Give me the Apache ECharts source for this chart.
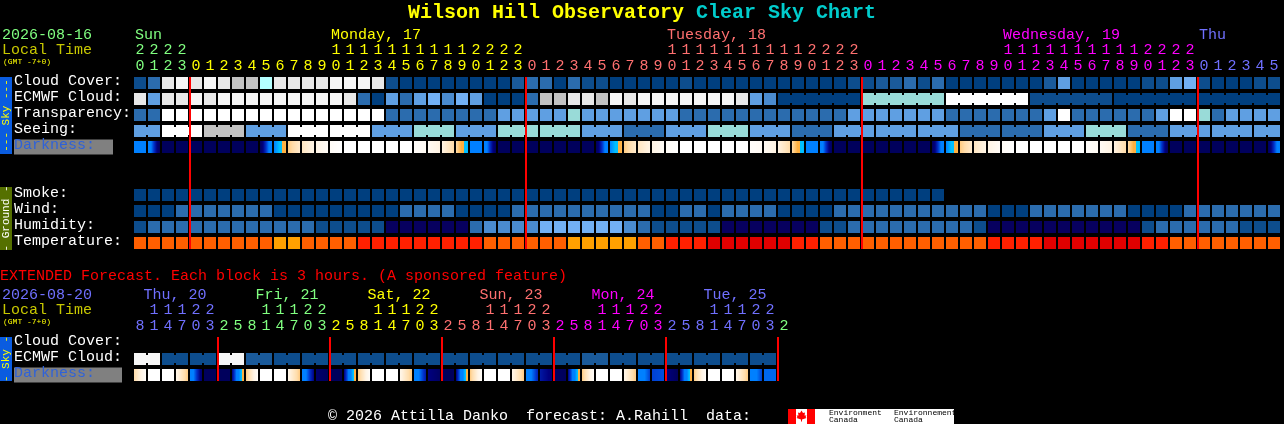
<!DOCTYPE html>
<html><head><meta charset="utf-8">
<style>html,body{margin:0;padding:0;background:#000}#c{width:1284px;height:424px}</style>
<script src="https://cdn.jsdelivr.net/npm/echarts@6/dist/echarts.min.js"></script>
</head><body><div id="c"></div>
<script>
// ---------- data: hourly chart ----------
const hoursMain=[20,21,22,23,0,1,2,3,4,5,6,7,8,9,10,11,12,13,14,15,16,17,18,19,20,21,22,23,0,1,2,3,4,5,6,7,8,9,10,11,12,13,14,15,16,17,18,19,20,21,22,23,0,1,2,3,4,5,6,7,8,9,10,11,12,13,14,15,16,17,18,19,20,21,22,23,0,1,2,3,4,5];
const rowsMain=['Cloud Cover:','ECMWF Cloud:','Transparency:','Seeing:','Darkness:','','','Smoke:','Wind:','Humidity:','Temperature:'];
const dayNamesMain=['Sun','Monday, 17','Tuesday, 18','Wednesday, 19','Thu'];
const dayLabelColsMain=[0,14,38,62,76];
const midnightColsMain=[4,28,52,76];
const cloudCover=[1,3,10,11,10,11,10,9,9,8,10,10,10,10,11,11,11,10,1,0,0,0,0,0,0,0,0,2,3,3,0,3,1,1,0,0,0,0,0,1,0,0,0,0,0,0,0,0,0,0,0,1,1,2,2,3,1,3,0,0,0,0,0,0,0,2,5,0,0,0,0,0,1,1,5,6,1,0,0,0,1,1];
const ecmwfCloud=[10,5,10,10,11,10,11,11,11,11,11,11,11,11,11,10,3,0,5,3,5,6,4,6,5,0,0,0,3,9,9,10,10,9,11,10,11,11,11,11,11,11,11,10,5,4,0,0,0,0,0,0,7,7,7,7,7,7,12,12,12,12,12,12,1,1,1,1,1,1,0,0,0,0,0,0,0,0,0,0,0,0];
const transparency=[3,3,12,12,12,12,12,12,12,12,12,12,12,12,12,12,12,12,3,3,3,3,3,3,3,3,5,5,5,5,5,7,5,5,5,5,5,5,5,3,3,3,3,3,3,3,3,3,3,3,3,5,5,5,5,5,5,5,3,3,3,3,3,3,3,5,12,3,3,3,3,3,3,5,12,12,7,3,5,5,5,5];
const seeing=[5,5,12,12,12,9,9,9,5,5,5,12,12,12,12,12,12,5,5,5,7,7,7,5,5,5,7,7,7,7,7,7,5,5,5,3,3,3,5,5,5,7,7,7,5,5,5,3,3,3,5,5,5,5,5,5,5,5,5,3,3,3,3,3,3,5,5,5,7,7,7,3,3,3,5,5,5,5,5,5,5,5];
const darkStart=[5,5,9,9,9,9,9,9,9,9,5,2.4,1.6,0.9,0.3,0,0,0,0,0,0.2,0.4,1,2,5,5,9,9,9,9,9,9,9,9,5,2.4,1.6,0.9,0.3,0,0,0,0,0,0.2,0.4,1,2,5,5,9,9,9,9,9,9,9,9,5,2.4,1.6,0.9,0.3,0,0,0,0,0,0.2,0.4,1,2,5,5,9,9,9,9,9,9,9,9];
const darkEnd=[5,9,9,9,9,9,9,9,9,5,2.8,1.4,0.9,0.3,0,0,0,0,0,0,0.4,1,2,4.2,5,9,9,9,9,9,9,9,9,5,2.8,1.4,0.9,0.3,0,0,0,0,0,0,0.4,1,2,4.2,5,9,9,9,9,9,9,9,9,5,2.8,1.4,0.9,0.3,0,0,0,0,0,0,0.4,1,2,4.2,5,9,9,9,9,9,9,9,9,5];
const smoke=[0,0,0,0,0,0,0,0,0,0,0,0,0,0,0,0,0,0,0,0,0,0,0,0,0,0,0,0,0,0,0,0,0,0,0,0,0,0,0,0,0,0,0,0,0,0,0,0,0,0,0,0,0,0,0,0,0,0];
const wind=[0,0,0,3,3,3,3,3,3,3,0,0,0,0,0,0,0,0,0,3,3,3,3,0,0,0,0,3,3,3,3,3,3,3,3,3,3,0,0,3,3,0,3,3,3,3,0,0,0,0,3,3,3,3,3,3,3,3,3,3,3,0,0,0,3,3,3,3,3,3,3,0,0,0,0,3,3,3,3,3,3,3];
const humidity=[1,3,3,3,3,3,3,3,3,3,3,3,3,1,1,1,1,1,13,13,13,13,13,13,3,4,4,4,4,6,6,6,6,6,6,4,3,1,1,1,1,1,13,13,13,13,13,13,13,1,1,3,3,3,3,3,3,3,3,3,1,13,13,13,13,13,13,13,13,13,13,13,1,3,3,3,3,3,3,1,1,1];
const temperature=[2,2,2,2,2,2,2,2,2,2,3,3,2,2,2,2,1,1,1,1,1,1,1,1,1,2,2,2,2,2,2,3,3,3,3,3,2,2,1,1,1,0,0,0,0,0,0,1,1,2,2,2,2,2,2,2,2,2,2,2,2,1,1,1,1,0,0,0,0,0,0,0,1,1,2,2,2,2,2,2,2,2];
// ---------- data: extended chart ----------
const hoursExt=[8,11,14,17,20,23,2,5,8,11,14,17,20,23,2,5,8,11,14,17,20,23,2,5,8,11,14,17,20,23,2,5,8,11,14,17,20,23,2,5,8,11,14,17,20,23,2];
const rowsExt=['Cloud Cover:','ECMWF Cloud:','Darkness:'];
const dayNamesExt=['Thu, 20','Fri, 21','Sat, 22','Sun, 23','Mon, 24','Tue, 25'];
const dayLabelColsExt=[3,11,19,27,35,43];
const midnightColsExt=[6,14,22,30,38,46];
const ecmwfExt=[11,11,1,1,1,1,11,11,2,2,1,1,1,1,1,1,1,1,1,1,1,1,1,1,1,1,1,1,1,1,1,1,2,2,1,1,1,1,1,1,1,1,1,1,1,1];
const darkStartExt=[2,0,0,0.8,5,9,9,8,2.4,0,0,0.8,5,8.5,9,8,2.4,0,0,0.8,5,8,9,8,2.4,0,0,0.8,5,7.5,8.8,8,2.4,0,0,0.8,5,6.8,8,8,2.4,0,0,0.8,5,6.3];
const darkEndExt=[0.2,0,0,2.4,8.5,9,9,2.8,0.2,0,0,2.4,8,9,9,2.8,0.2,0,0,2.4,7.5,8.8,9,2.8,0.2,0,0,2.4,7.3,8.2,9,2.8,0.2,0,0,2.4,6.8,6.6,9,2.8,0.2,0,0,2.4,6.8,6.3];

// ---------- styles ----------
const FONT='"Liberation Mono"';
const skyPalette=['#003f7f','#0d4d8d','#1a5a9a','#2b6cae','#4a8bcf','#5f9fe2','#72b0f4','#99dbd8','#b4ffff','#c2c2c2','#e8e8e8','#f6f6f6','#ffffff','#07005f'];
const tempPalette=['#e00000','#ff2000','#ff5f00','#ffa000'];
const dayPaletteMain=['#80ff80','#ffff00','#ff7070','#ff00ff','#7070ff'];
const dayPaletteExt=['#7070ff','#80ff80','#ffff00','#ff7070','#ff00ff','#7070ff','#80ff80'];
const darkRamp=[[255,255,255],[255,243,226],[255,220,170],[255,176,64],[0,192,255],[0,128,255],[0,128,255],[0,48,200],[0,0,128],[0,0,92]];

function rampColor(t){
  let i=Math.min(Math.floor(t),8),f=t-i;
  if(i===3){return f<0.5?'rgb(255,176,64)':'rgb(0,192,255)';}
  const a=darkRamp[i],b=darkRamp[i+1];
  return 'rgb('+a.map((v,k)=>Math.round(v+(b[k]-v)*f)).join(',')+')';
}
function darkFill(a,b){
  const n=12,stops=[];
  for(let i=0;i<n;i++){const c=rampColor(a+(b-a)*(i+0.5)/n);stops.push({offset:i/n,color:c},{offset:(i+1)/n,color:c});}
  return new echarts.graphic.LinearGradient(0,0,1,0,stops);
}
const CELL=12;
function cellSeries(name,gi,row,values,palette,joinsNext){
  return {type:'custom',name,xAxisIndex:gi,yAxisIndex:gi,silent:true,clip:false,z:2,
    data:values.map((v,c)=>[c,row,v,joinsNext&&joinsNext(c)&&c<values.length-1?1:0]),
    renderItem(p,api){
      const pt=api.coord([api.value(0),api.value(1)]),s=CELL/2,fill=palette[api.value(2)];
      const kids=[{type:'rect',shape:{x:pt[0]-s,y:pt[1]-s,width:CELL,height:CELL},style:{fill}}];
      if(api.value(3)) kids.push({type:'rect',shape:{x:pt[0]+s,y:pt[1]-s+2,width:2,height:CELL-4},style:{fill}});
      return {type:'group',children:kids};
    }};
}
function darkSeries(name,gi,row,from,to){
  return {type:'custom',name,xAxisIndex:gi,yAxisIndex:gi,silent:true,clip:false,z:2,
    data:from.map((v,c)=>[c,row,v,to[c]]),
    renderItem(p,api){
      const pt=api.coord([api.value(0),api.value(1)]),s=CELL/2;
      return {type:'rect',shape:{x:pt[0]-s,y:pt[1]-s,width:CELL,height:CELL},style:{fill:darkFill(api.value(2),api.value(3))}};
    }};
}
function midnightSeries(gi,cols,lastRow){
  return {type:'custom',name:'midnight',xAxisIndex:gi,yAxisIndex:gi,silent:true,clip:false,z:5,
    data:cols.map(c=>[c,0,lastRow]),
    renderItem(p,api){
      const a=api.coord([api.value(0),0]),b=api.coord([api.value(0),api.value(2)]);
      return {type:'rect',shape:{x:a[0]-7,y:a[1]-6,width:2,height:b[1]-a[1]+12},style:{fill:'#ff0000'}};
    }};
}
function daySeries(gi,cols,names,palette,align){
  return {type:'custom',name:'days',xAxisIndex:gi,yAxisIndex:gi,silent:true,clip:false,z:3,
    data:cols.map((c,i)=>[c,i]),
    renderItem(p,api){
      const a=api.coord([api.value(0),0]),i=api.value(1);
      return {type:'text',style:{x:align==='left'?a[0]-5:a[0]-7,y:a[1]-48,text:names[i],fill:palette[i],
        font:'15px '+FONT,textAlign:align,textVerticalAlign:'middle'}};
    }};
}
function hourAxis(gi,hours,colourOf){
  const rich={};
  hours.forEach((h,i)=>{rich['k'+colourOf(i).slice(1)]={color:colourOf(i),fontFamily:FONT,fontSize:15,lineHeight:16};});
  return {type:'category',gridIndex:gi,position:'top',data:hours.map(String),
    axisLine:{show:false},axisTick:{show:false},splitLine:{show:false},
    axisLabel:{show:true,interval:0,margin:1,hideOverlap:false,
      formatter(v,i){const k='k'+colourOf(i).slice(1),h=hours[i];
        return '{'+k+'|'+(h>=10?Math.floor(h/10):' ')+'}\n{'+k+'|'+(h%10)+'}';},rich}};
}
function rowAxis(gi,rows,darkWidth){
  return {type:'category',gridIndex:gi,inverse:true,data:rows,
    axisLine:{show:false},axisTick:{show:false},splitLine:{show:false},
    axisLabel:{show:true,interval:0,align:'left',margin:119,hideOverlap:false,
      formatter(v){return v==='Darkness:'?'{d|'+v+'}':'{w|'+v+'}';},
      rich:{w:{color:'#ffffff',fontFamily:FONT,fontSize:15,padding:[0,0,4,0]},
            d:{color:'#2f62d8',fontFamily:FONT,fontSize:15,backgroundColor:'#808080',width:darkWidth,height:12,padding:[0,0,3,0]}}}};
}
const colMain=i=>dayPaletteMain[i<4?0:i<28?1:i<52?2:i<76?3:4];
const colExt=i=>dayPaletteExt[i<6?0:Math.floor((i-6)/8)+1];

function sideBar(y,h,fill,text,tc){
  return [{type:'rect',shape:{x:0,y,width:12,height:h},style:{fill}},
    {type:'text',x:6,y:y+h/2,rotation:Math.PI/2,style:{text,fill:tc,font:'11px '+FONT,textAlign:'center',textVerticalAlign:'middle'}}];
}
function plain(x,y,text,fill,size){
  return {type:'text',x,y,style:{text,fill,font:size+'px '+FONT,textAlign:'left',textVerticalAlign:'middle'}};
}
const leaf=[[801.5,410.5],[803,413],[805,412.5],[804.5,415.5],[806.5,415.5],[805.5,417],[806.5,418],[802,419.5],[802,421.5],[801,421.5],[801,419.5],[796.5,418],[797.5,417],[796.5,415.5],[798.5,415.5],[798,412.5],[800,413]];

const chart=echarts.init(document.getElementById('c'),null,{renderer:'canvas',width:1284,height:424});
chart.setOption({
  animation:false,backgroundColor:'#000000',
  title:{show:true,left:408,top:3,padding:0,text:'{a|Wilson Hill Observatory }{b|Clear Sky Chart}',
    textStyle:{rich:{a:{color:'#ffff00',fontFamily:FONT,fontWeight:'bold',fontSize:20},b:{color:'#00cccc',fontFamily:FONT,fontWeight:'bold',fontSize:20}}}},
  grid:[{left:133,top:75,width:82*14,height:11*16},{left:133,top:335,width:47*14,height:3*16}],
  xAxis:[hourAxis(0,hoursMain,colMain),hourAxis(1,hoursExt,colExt)],
  yAxis:[rowAxis(0,rowsMain,99),rowAxis(1,rowsExt,108)],
  series:[
    daySeries(0,dayLabelColsMain,dayNamesMain,dayPaletteMain,'left'),
    daySeries(1,dayLabelColsExt,dayNamesExt,dayPaletteExt,'center'),
    cellSeries('Cloud Cover',0,0,cloudCover,skyPalette),
    cellSeries('ECMWF Cloud',0,1,ecmwfCloud,skyPalette,c=>c>=46&&(c-45)%6!==0),
    cellSeries('Transparency',0,2,transparency,skyPalette),
    cellSeries('Seeing',0,3,seeing,skyPalette,c=>c===0||(c>=2&&(c-1)%3!==0)),
    darkSeries('Darkness',0,4,darkStart,darkEnd),
    cellSeries('Smoke',0,7,smoke,skyPalette),
    cellSeries('Wind',0,8,wind,skyPalette),
    cellSeries('Humidity',0,9,humidity,skyPalette),
    cellSeries('Temperature',0,10,temperature,tempPalette),
    midnightSeries(0,midnightColsMain,10),
    cellSeries('ECMWF Cloud ext',1,1,ecmwfExt,skyPalette,c=>c%2===0),
    darkSeries('Darkness ext',1,2,darkStartExt,darkEndExt),
    midnightSeries(1,midnightColsExt,2)
  ],
  graphic:{elements:[
    ...sideBar(77,77,'#0a5ce0','--- Sky ---','#ffff00'),
    ...sideBar(187,63,'#557000','- Ground -','#ffffff'),
    ...sideBar(337,44,'#0a5ce0','- Sky -','#ffff00'),
    plain(2,35,'2026-08-16','#80ff80',15),
    plain(2,50,'Local Time','#c8c800',15),
    plain(3,62,'(GMT -7+0)','#ffff00',8),
    plain(0,276,'EXTENDED Forecast. Each block is 3 hours. (A sponsored feature)','#ff0000',15),
    plain(2,295,'2026-08-20','#7070ff',15),
    plain(2,310,'Local Time','#c8c800',15),
    plain(3,322,'(GMT -7+0)','#ffff00',8),
    plain(328,416,'\u00a9 2026 Attilla Danko  forecast: A.Rahill  data:','#ffffff',15),
    {type:'rect',shape:{x:788,y:409,width:166,height:15},style:{fill:'#ffffff'}},
    {type:'rect',shape:{x:788,y:409,width:8,height:15},style:{fill:'#ff0000'}},
    {type:'rect',shape:{x:807,y:409,width:8,height:15},style:{fill:'#ff0000'}},
    {type:'polygon',shape:{points:leaf},style:{fill:'#ff0000'}},
    plain(829,412.5,'Environment','#000000',8),
    plain(829,420,'Canada','#000000',8),
    plain(894,412.5,'Environnement','#000000',8),
    plain(894,420,'Canada','#000000',8)
  ]}
});
</script></body></html>
